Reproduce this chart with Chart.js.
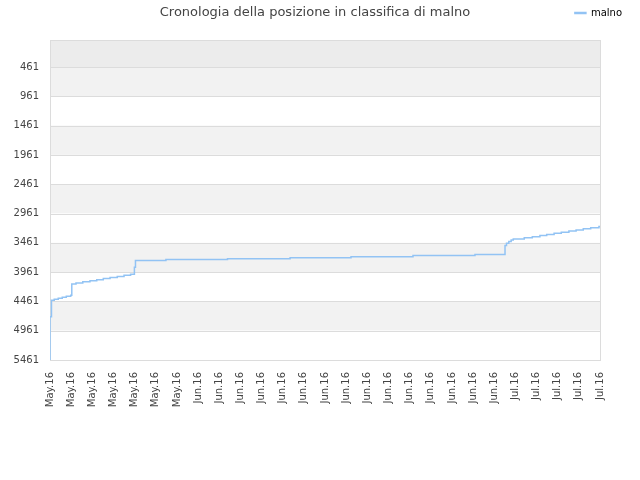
<!DOCTYPE html>
<html>
<head>
<meta charset="utf-8">
<script src="https://cdn.jsdelivr.net/npm/chart.js@4/dist/chart.umd.min.js"></script>
<style>
html,body{margin:0;padding:0;background:#fff;}
#wrap{width:640px;height:480px;}
</style>
</head>
<body>
<div id="wrap"><canvas id="c" width="640" height="480"></canvas></div>
<script>
const chartTitle = "Cronologia della posizione in classifica di malno";
const seriesName = "malno";
const xLabels = ["May.16","May.16","May.16","May.16","May.16","May.16","May.16",
  "Jun.16","Jun.16","Jun.16","Jun.16","Jun.16","Jun.16","Jun.16","Jun.16","Jun.16",
  "Jun.16","Jun.16","Jun.16","Jun.16","Jun.16","Jun.16",
  "Jul.16","Jul.16","Jul.16","Jul.16","Jul.16"];
const yTickValues = [461,961,1461,1961,2461,2961,3461,3961,4461,4961,5461];
// x positions expressed in label-index units, ranks
const rankX = [0, 0, 0.07, 0.20, 0.39, 0.58, 0.77, 0.98, 1.03,
  1.23, 1.55, 1.89, 2.21, 2.52, 2.84, 3.18, 3.50, 3.81, 3.99, 4.04,
  5.48, 8.39, 11.35, 14.23, 17.16, 20.09, 21.51, 21.58, 21.69, 21.80, 21.90,
  22.42, 22.80, 23.16, 23.48, 23.83, 24.17, 24.53, 24.87, 25.21, 25.56, 25.95, 26];
const rankY = [5461, 4722, 4440, 4423, 4406, 4389, 4372, 4355, 4163,
  4145, 4126, 4108, 4090, 4071, 4053, 4035, 4016, 3998, 3880, 3765,
  3748, 3731, 3714, 3697, 3679, 3662, 3509, 3468, 3440, 3411, 3394,
  3375, 3356, 3337, 3318, 3299, 3280, 3261, 3242, 3222, 3203, 3184, 3184];

const points = rankX.map((x, i) => ({x: x, y: rankY[i]}));
const FONT = "'DejaVu Sans', sans-serif";

const bandPlugin = {
  id: 'bands',
  beforeDatasetsDraw(chart) {
    const {ctx, chartArea: a, scales: {y}} = chart;
    ctx.save();
    const y0 = y.getPixelForValue(0), y1 = y.getPixelForValue(yTickValues[0]);
    ctx.fillStyle = '#ececec';
    ctx.fillRect(a.left, y0, a.right - a.left, y1 - y0);
    for (let i = 0; i < yTickValues.length - 1; i++) {
      const t = y.getPixelForValue(yTickValues[i]);
      const b = y.getPixelForValue(yTickValues[i + 1]);
      ctx.fillStyle = (i % 2 === 0) ? '#f2f2f2' : '#ffffff';
      ctx.fillRect(a.left, t, a.right - a.left, b - t);
    }
    ctx.strokeStyle = '#dcdcdc';
    ctx.lineWidth = 1;
    for (const v of yTickValues) {
      const p = Math.round(y.getPixelForValue(v)) + 0.5;
      ctx.beginPath(); ctx.moveTo(a.left, p); ctx.lineTo(a.right, p); ctx.stroke();
    }
    ctx.strokeRect(Math.round(a.left) + 0.5, Math.round(a.top) + 0.5,
      Math.round(a.right - a.left), Math.round(a.bottom - a.top));
    ctx.restore();
  }
};

new Chart(document.getElementById('c'), {
  type: 'line',
  data: {
    datasets: [{
      label: seriesName,
      data: points,
      borderColor: '#92c3f4',
      backgroundColor: '#92c3f4',
      borderWidth: 1.5,
      pointRadius: 0,
      stepped: true,
      fill: false,
      tension: 0
    }]
  },
  options: {
    responsive: false,
    animation: false,
    layout: {padding: {left: 0, right: 10, top: 0, bottom: 0}},
    plugins: {
      title: {
        display: true,
        text: chartTitle,
        color: '#444',
        font: {family: FONT, size: 13, weight: 'normal'},
        padding: {top: 5, bottom: -20.6}
      },
      legend: {
        display: true,
        position: 'top',
        align: 'end',
        labels: {
          color: '#000',
          font: {family: FONT, size: 10},
          boxWidth: 11,
          boxHeight: 1,
          padding: 8
        }
      },
      tooltip: {enabled: false}
    },
    scales: {
      x: {
        type: 'linear',
        min: 0,
        max: 26,
        position: 'bottom',
        grid: {display: false, drawTicks: false},
        border: {display: false},
        ticks: {
          stepSize: 1,
          autoSkip: false,
          minRotation: 90,
          maxRotation: 90,
          padding: 12,
          color: '#444',
          font: {family: FONT, size: 10},
          callback: (v) => xLabels[v]
        },
        afterFit: (s) => { s.height = 120; }
      },
      y: {
        type: 'linear',
        reverse: true,
        min: 0,
        max: 5461,
        grid: {display: false, drawTicks: false},
        border: {display: false},
        ticks: {
          padding: 11,
          color: '#444',
          font: {family: FONT, size: 10},
          autoSkip: false,
          callback: (v) => String(v)
        },
        afterBuildTicks: (s) => { s.ticks = yTickValues.map(v => ({value: v})); },
        afterFit: (s) => { s.width = 50; }
      },
      xTop: {
        type: 'linear',
        position: 'top',
        display: true,
        grid: {display: false, drawTicks: false},
        border: {display: false},
        ticks: {display: false},
        afterFit: (s) => { s.height = 12; }
      },
      yRight: {
        type: 'linear',
        position: 'right',
        display: true,
        grid: {display: false, drawTicks: false},
        border: {display: false},
        ticks: {display: false},
        afterFit: (s) => { s.width = 30; }
      }
    }
  },
  plugins: [bandPlugin]
});
</script>
</body>
</html>
